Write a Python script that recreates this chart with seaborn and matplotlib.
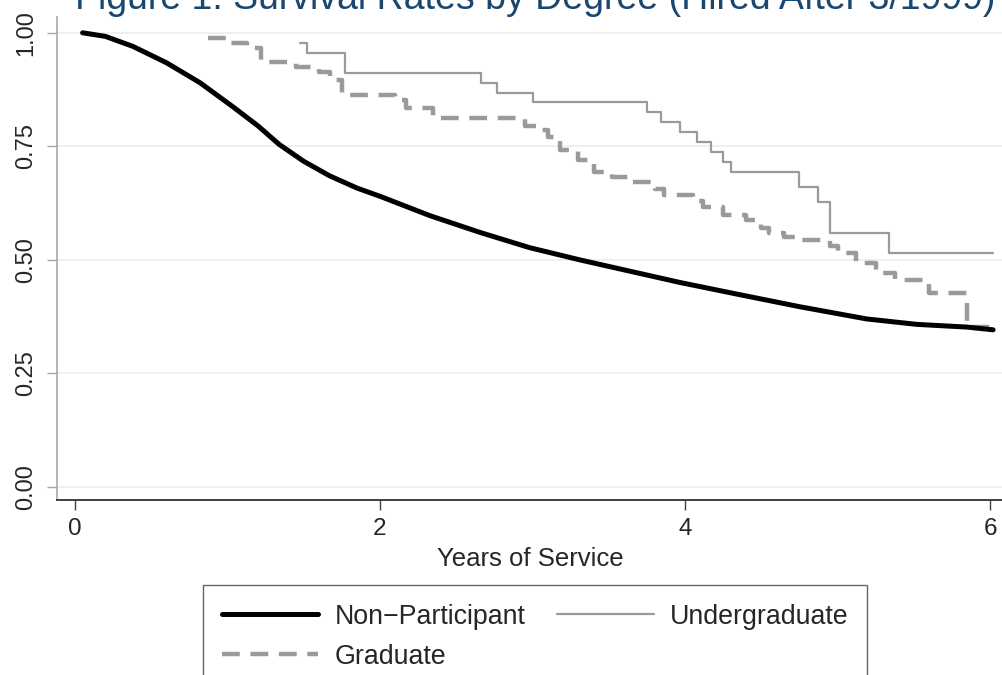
import seaborn as sns
import matplotlib.pyplot as plt
import matplotlib.lines as mlines
import pandas as pd

# Kaplan-Meier style survival curves
np_years = [0.05, 0.20, 0.38, 0.60, 0.82, 1.04, 1.20, 1.34, 1.50, 1.67, 1.85,
            2.00, 2.33, 2.66, 2.98, 3.31, 3.64, 3.97, 4.35, 4.75, 5.19, 5.52, 5.85, 6.02]
np_surv = [1.000, 0.992, 0.970, 0.934, 0.890, 0.836, 0.795, 0.754, 0.717, 0.685, 0.658,
           0.640, 0.597, 0.560, 0.527, 0.500, 0.475, 0.450, 0.424, 0.397, 0.370, 0.358, 0.352, 0.346]

ug_years = [1.475, 1.52, 1.77, 2.66, 2.77, 3.00, 3.75, 3.84, 3.97, 4.08, 4.17, 4.25,
            4.30, 4.75, 4.87, 4.95, 5.34, 6.02]
ug_surv = [0.978, 0.956, 0.912, 0.890, 0.868, 0.848, 0.826, 0.804, 0.782, 0.760, 0.738, 0.716,
           0.694, 0.661, 0.628, 0.559, 0.515, 0.515]

gr_years = [0.87, 1.02, 1.13, 1.22, 1.45, 1.60, 1.67, 1.75, 2.10, 2.17, 2.35, 2.95, 3.02,
            3.10, 3.18, 3.30, 3.40, 3.52, 3.64, 3.80, 3.86, 4.05, 4.12, 4.25, 4.40, 4.50,
            4.55, 4.65, 4.75, 4.95, 5.00, 5.12, 5.25, 5.38, 5.60, 5.85, 6.02]
gr_surv = [0.989, 0.978, 0.967, 0.936, 0.925, 0.914, 0.896, 0.863, 0.852, 0.835, 0.813, 0.795,
           0.786, 0.771, 0.742, 0.720, 0.694, 0.683, 0.672, 0.655, 0.643, 0.630, 0.617, 0.599,
           0.588, 0.570, 0.559, 0.551, 0.544, 0.530, 0.515, 0.493, 0.471, 0.456, 0.427, 0.352,
           0.350]

y_ticks = [0.00, 0.25, 0.50, 0.75, 1.00]
x_ticks = [0, 2, 4, 6]

sns.set_theme(style="white")
plt.rcParams['font.family'] = ['Liberation Sans', 'DejaVu Sans']

fig = plt.figure(figsize=(10.03, 6.75), dpi=100)
ax = fig.add_axes([0.0568, 0.2593, 0.9432, 0.7157])

for y in y_ticks:
    ax.axhline(y, color="#e9f1f2", lw=1.4, zorder=0)

df_np = pd.DataFrame({"years": np_years, "surv": np_surv})
df_ug = pd.DataFrame({"years": ug_years, "surv": ug_surv})
df_gr = pd.DataFrame({"years": gr_years, "surv": gr_surv})

sns.lineplot(data=df_gr, x="years", y="surv", ax=ax, color="#9a9a9a", lw=3.2,
             drawstyle="steps-post", dashes=False, linestyle=(0, (4, 2.4)), zorder=2)
sns.lineplot(data=df_ug, x="years", y="surv", ax=ax, color="#9a9a9a", lw=1.6,
             drawstyle="steps-post", zorder=3)
sns.lineplot(data=df_np, x="years", y="surv", ax=ax, color="black", lw=3.6, zorder=4)

ax.set_xlim(-0.118, 6.085)
ax.set_ylim(-0.0286, 1.035)
ax.set_xticks(x_ticks)
ax.set_yticks(y_ticks)
ax.set_yticklabels([f"{v:.2f}" for v in y_ticks], rotation=90, va="center")
ax.tick_params(axis="x", length=7, width=1, color="#404040", pad=6, labelsize=17.5, bottom=True)
ax.tick_params(axis="y", length=7, width=1, color="#a8a8a8", pad=7, labelsize=17, left=True)
ax.set_xlabel("Years of Service", fontsize=18.5, labelpad=5)
ax.set_ylabel("")

for s in ["top", "right"]:
    ax.spines[s].set_visible(False)
ax.spines["bottom"].set_color("#404040")
ax.spines["bottom"].set_linewidth(1.4)
ax.spines["left"].set_color("#a8a8a8")
ax.spines["left"].set_linewidth(1.2)

# title sits partly above the top edge, as in the cropped original
fig.text(0.993, 1 - 9 / 675, "Figure 1: Survival Rates by Degree (Hired After 3/1999)",
         ha="right", va="baseline", fontsize=27, color="#1a476f")

h_np = mlines.Line2D([], [], color="black", lw=3.6)
h_ug = mlines.Line2D([], [], color="#9a9a9a", lw=1.6)
h_gr = mlines.Line2D([], [], color="#9a9a9a", lw=3.2, linestyle=(0, (4, 2.4)))
leg = fig.legend([h_np, h_gr, h_ug], ["Non\u2212Participant", "Graduate", "Undergraduate"],
                 ncol=2, loc="upper left", bbox_to_anchor=(0.2024, 1 - 585 / 675),
                 bbox_transform=fig.transFigure, borderaxespad=0, fontsize=19.3,
                 frameon=True, fancybox=False, handlelength=3.6, handletextpad=0.6,
                 columnspacing=1.2, labelspacing=0.52, borderpad=0.7)
leg.get_frame().set_edgecolor("#404040")
leg.get_frame().set_linewidth(1.0)

fig.savefig("out.png", dpi=100)
